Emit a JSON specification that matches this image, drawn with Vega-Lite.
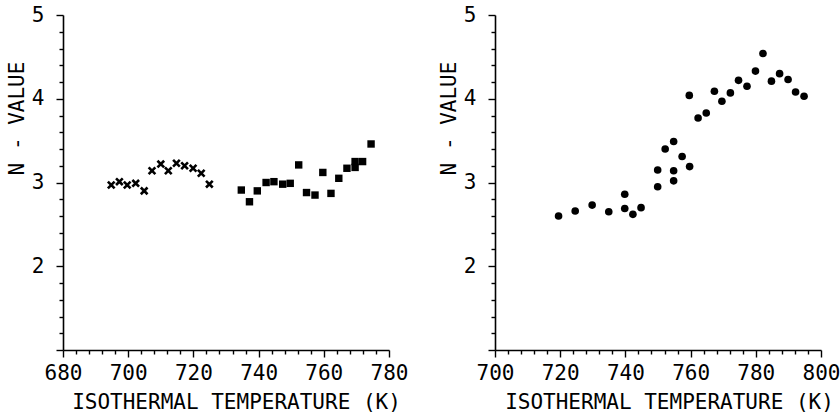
{
  "$schema": "https://vega.github.io/schema/vega-lite/v6.json",
  "padding": {"left": 6, "top": 4, "right": 0, "bottom": 0},
  "background": "white",
  "config": {
    "view": {"stroke": null},
    "axis": {
      "labelFont": "DejaVu Sans Mono",
      "titleFont": "DejaVu Sans Mono",
      "labelFontSize": 21,
      "titleFontSize": 21,
      "labelColor": "black",
      "titleColor": "black",
      "titleFontWeight": "normal",
      "domainColor": "black",
      "domainWidth": 1.6,
      "tickColor": "black",
      "tickWidth": 1.4,
      "grid": false,
      "labelFlush": false,
      "labelOverlap": false
    }
  },
  "datasets": {
    "leftX": [
      {"T": 694.8, "N": 2.97}, {"T": 697.3, "N": 3.01}, {"T": 699.7, "N": 2.97},
      {"T": 702.3, "N": 2.99}, {"T": 704.9, "N": 2.90}, {"T": 707.3, "N": 3.14},
      {"T": 710.0, "N": 3.22}, {"T": 712.3, "N": 3.14}, {"T": 714.8, "N": 3.23},
      {"T": 717.3, "N": 3.20}, {"T": 719.9, "N": 3.17}, {"T": 722.4, "N": 3.11},
      {"T": 724.9, "N": 2.98}
    ],
    "leftSq": [
      {"T": 734.7, "N": 2.91}, {"T": 737.2, "N": 2.77}, {"T": 739.6, "N": 2.90},
      {"T": 742.3, "N": 3.00}, {"T": 744.7, "N": 3.01}, {"T": 747.4, "N": 2.98},
      {"T": 749.7, "N": 2.99}, {"T": 752.3, "N": 3.21}, {"T": 754.7, "N": 2.88},
      {"T": 757.3, "N": 2.85}, {"T": 759.7, "N": 3.12}, {"T": 762.2, "N": 2.87},
      {"T": 764.6, "N": 3.05}, {"T": 767.1, "N": 3.17}, {"T": 769.6, "N": 3.25},
      {"T": 769.6, "N": 3.18}, {"T": 771.9, "N": 3.25}, {"T": 774.5, "N": 3.46}
    ],
    "right": [
      {"T": 719.5, "N": 2.60}, {"T": 724.6, "N": 2.66}, {"T": 729.8, "N": 2.73},
      {"T": 734.9, "N": 2.65}, {"T": 739.8, "N": 2.86}, {"T": 739.8, "N": 2.69},
      {"T": 742.3, "N": 2.62}, {"T": 744.8, "N": 2.70}, {"T": 749.9, "N": 3.15},
      {"T": 749.9, "N": 2.95}, {"T": 752.2, "N": 3.40}, {"T": 754.8, "N": 3.49},
      {"T": 754.8, "N": 3.14}, {"T": 754.8, "N": 3.02}, {"T": 757.4, "N": 3.31},
      {"T": 759.7, "N": 3.19}, {"T": 759.6, "N": 4.04}, {"T": 762.3, "N": 3.77},
      {"T": 764.8, "N": 3.83}, {"T": 767.3, "N": 4.09}, {"T": 769.6, "N": 3.97},
      {"T": 772.2, "N": 4.07}, {"T": 774.7, "N": 4.22}, {"T": 777.3, "N": 4.15},
      {"T": 779.9, "N": 4.33}, {"T": 782.2, "N": 4.54}, {"T": 784.8, "N": 4.21},
      {"T": 787.3, "N": 4.30}, {"T": 789.9, "N": 4.23}, {"T": 792.2, "N": 4.08},
      {"T": 794.8, "N": 4.03}
    ]
  },
  "hconcat": [
    {
      "width": 326,
      "height": 335,
      "encoding": {
        "x": {
          "field": "T", "type": "quantitative",
          "scale": {"domain": [680, 780], "nice": false, "zero": false},
          "axis": {
            "title": "ISOTHERMAL TEMPERATURE (K)",
            "values": [680,684,688,692,696,700,704,708,712,716,720,724,728,732,736,740,744,748,752,756,760,764,768,772,776,780],
            "labelExpr": "datum.value % 20 == 0 ? format(datum.value, 'd') : ''",
            "tickSize": {"condition": {"test": "datum.value % 20 == 0", "value": 7}, "value": 4},
            "labelPadding": 5,
            "titlePadding": 8,
            "titleX": 173
          }
        },
        "y": {
          "field": "N", "type": "quantitative",
          "scale": {"domain": [1, 5], "nice": false, "zero": false},
          "axis": {
            "title": "N - VALUE",
            "values": [1,1.2,1.4,1.6,1.8,2,2.2,2.4,2.6,2.8,3,3.2,3.4,3.6,3.8,4,4.2,4.4,4.6,4.8,5],
            "labelExpr": "datum.value % 1 == 0 && datum.value > 1 ? format(datum.value, 'd') : ''",
            "tickSize": {"condition": {"test": "datum.value % 1 == 0", "value": 7}, "value": 4},
            "labelPadding": 12,
            "titlePadding": 4,
            "titleY": 103
          }
        }
      },
      "layer": [
        {
          "data": {"name": "leftX"},
          "mark": {"type": "point", "shape": "M-1,-1L1,1M-1,1L1,-1", "filled": false, "color": "black", "strokeWidth": 2.6, "size": 45, "opacity": 1}
        },
        {
          "data": {"name": "leftSq"},
          "mark": {"type": "point", "shape": "square", "filled": true, "color": "black", "size": 55, "opacity": 1}
        }
      ]
    },
    {
      "width": 326,
      "height": 335,
      "data": {"name": "right"},
      "mark": {"type": "point", "shape": "circle", "filled": true, "color": "black", "size": 58, "opacity": 1},
      "encoding": {
        "x": {
          "field": "T", "type": "quantitative",
          "scale": {"domain": [700, 800], "nice": false, "zero": false},
          "axis": {
            "title": "ISOTHERMAL TEMPERATURE (K)",
            "values": [700,704,708,712,716,720,724,728,732,736,740,744,748,752,756,760,764,768,772,776,780,784,788,792,796,800],
            "labelExpr": "datum.value % 20 == 0 ? format(datum.value, 'd') : ''",
            "tickSize": {"condition": {"test": "datum.value % 20 == 0", "value": 7}, "value": 4},
            "labelPadding": 5,
            "titlePadding": 8,
            "titleX": 174
          }
        },
        "y": {
          "field": "N", "type": "quantitative",
          "scale": {"domain": [1, 5], "nice": false, "zero": false},
          "axis": {
            "title": "N - VALUE",
            "values": [1,1.2,1.4,1.6,1.8,2,2.2,2.4,2.6,2.8,3,3.2,3.4,3.6,3.8,4,4.2,4.4,4.6,4.8,5],
            "labelExpr": "datum.value % 1 == 0 && datum.value > 1 ? format(datum.value, 'd') : ''",
            "tickSize": {"condition": {"test": "datum.value % 1 == 0", "value": 7}, "value": 4},
            "labelPadding": 12,
            "titlePadding": 4,
            "titleY": 103
          }
        }
      }
    }
  ],
  "bounds": "flush",
  "spacing": 106
}
